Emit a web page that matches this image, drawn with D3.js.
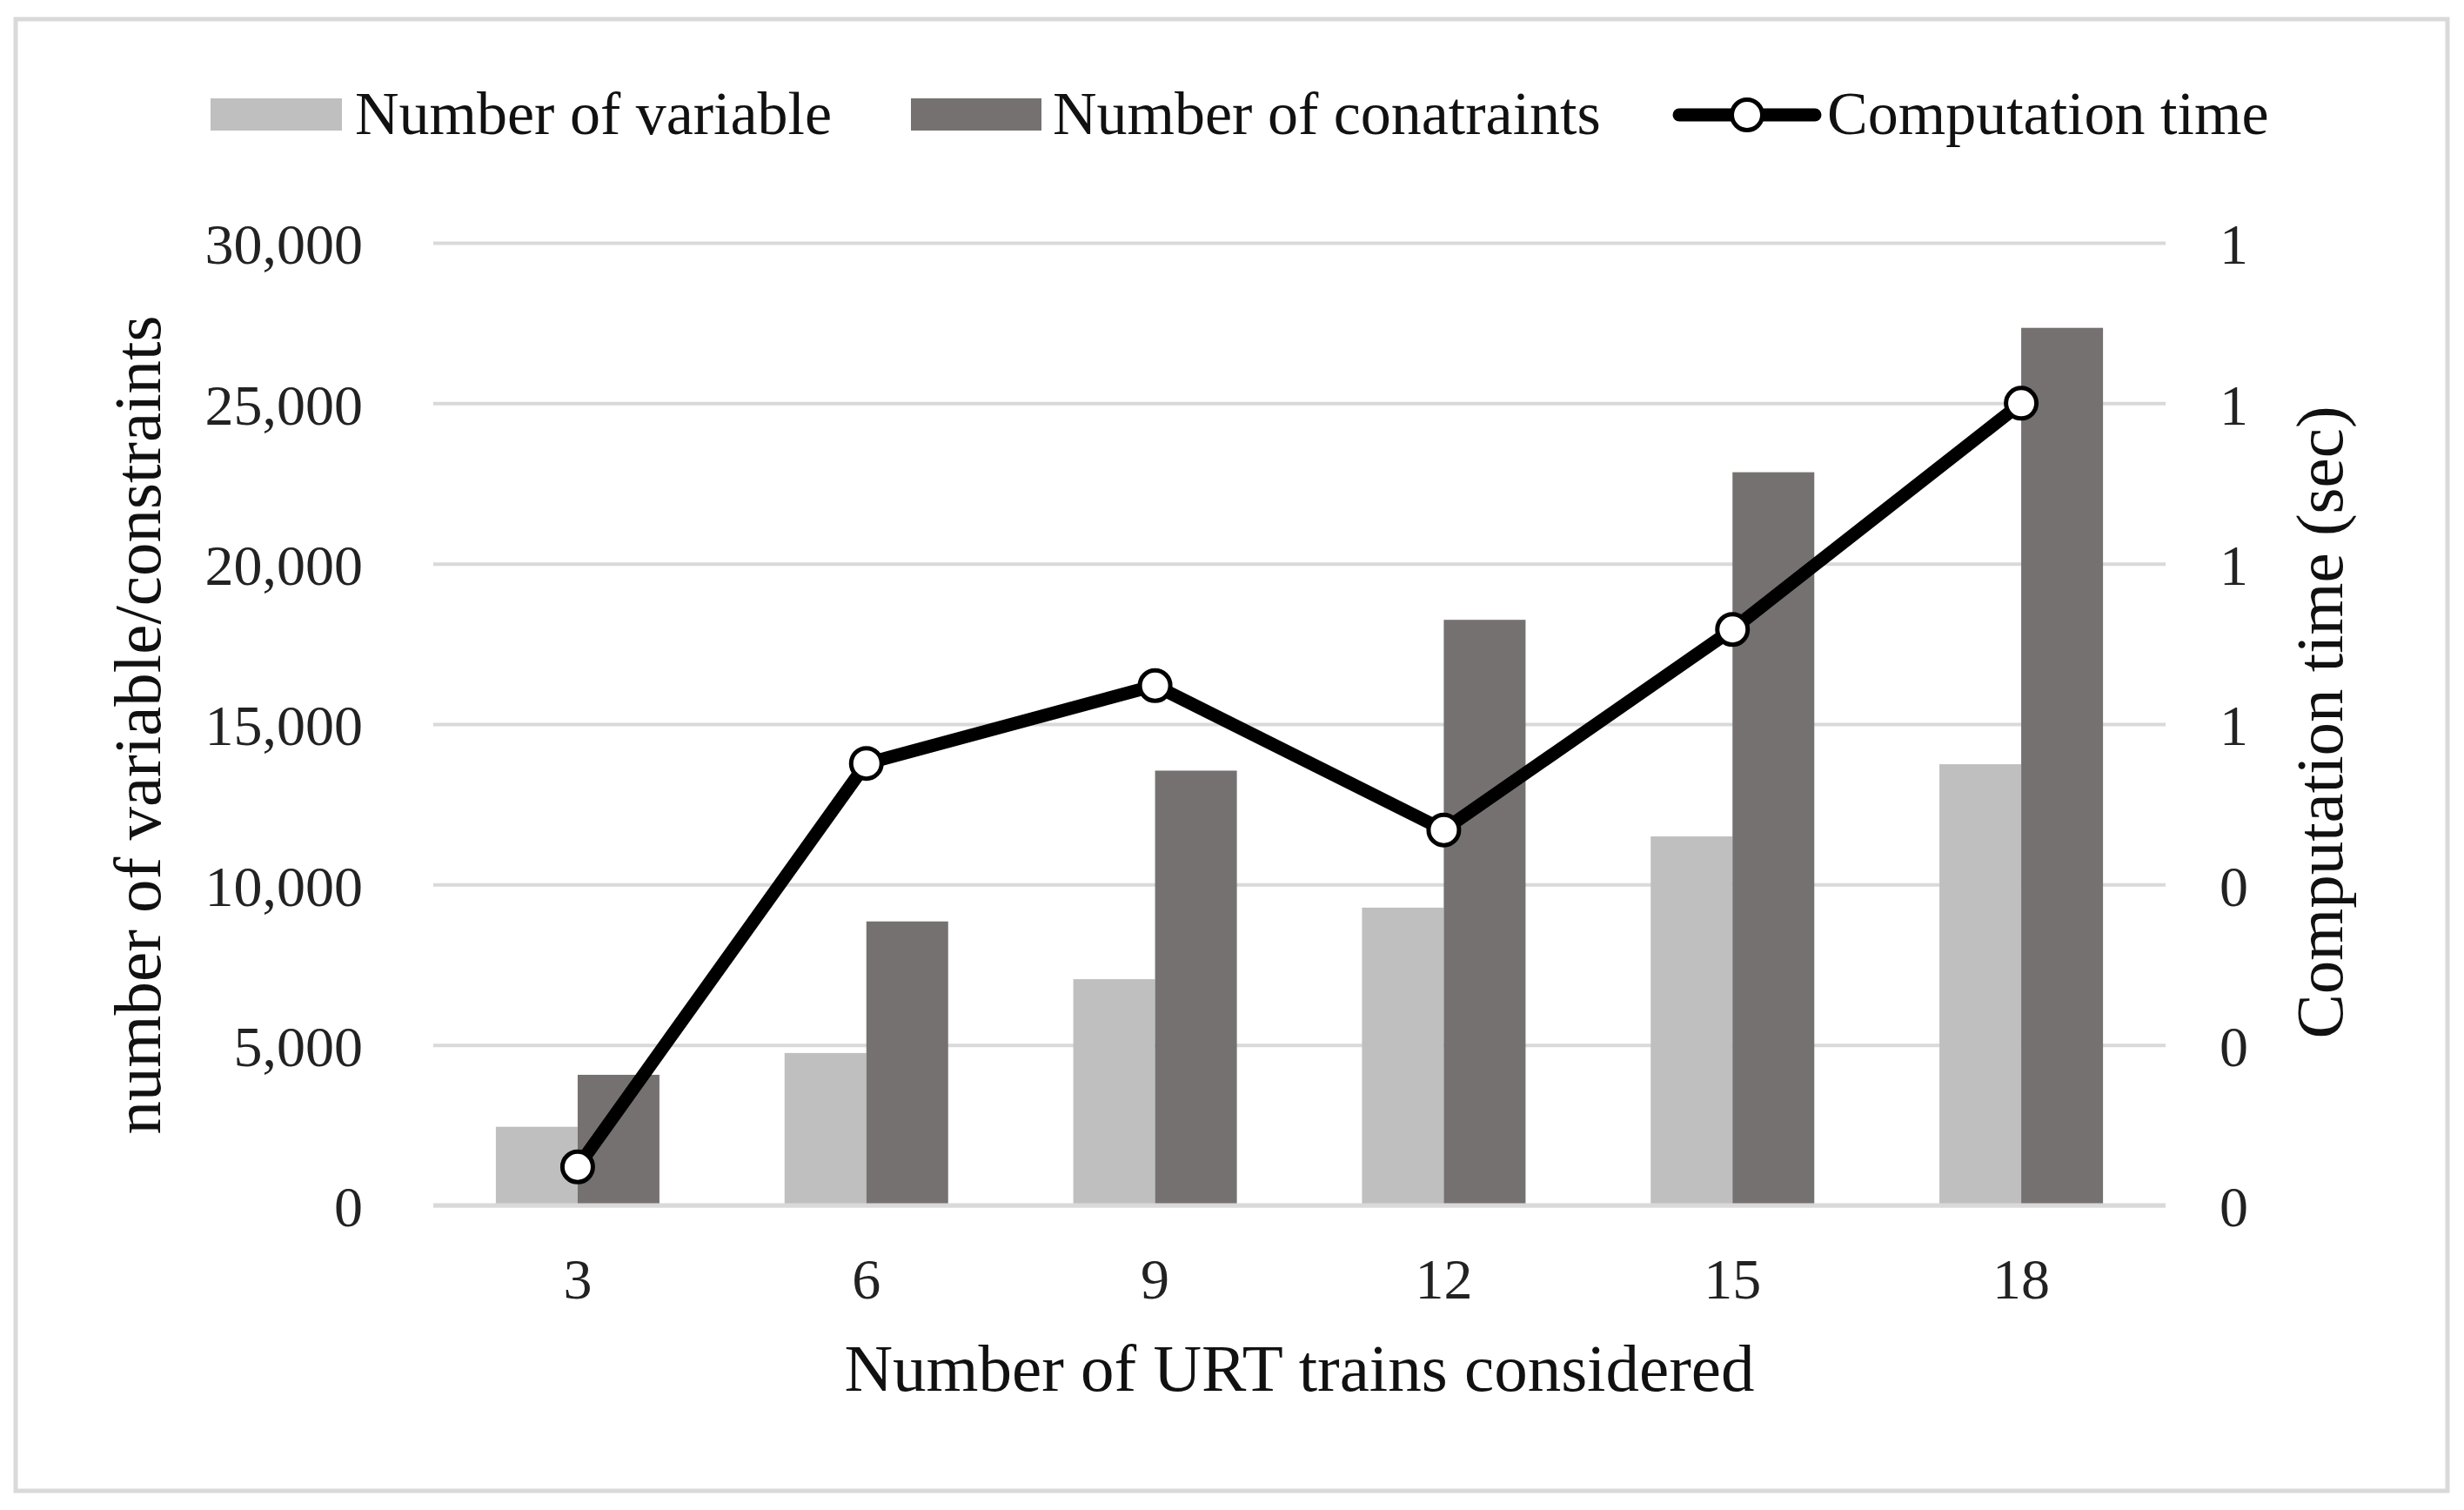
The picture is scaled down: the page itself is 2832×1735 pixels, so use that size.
<!DOCTYPE html>
<html>
<head>
<meta charset="utf-8">
<script src="https://cdn.jsdelivr.net/npm/d3@7"></script>
<style>
  html, body { margin: 0; padding: 0; background: #fff; }
  svg { display: block; }
</style>
</head>
<body>
<script>
// ---- data ----
const categories = ["3", "6", "9", "12", "15", "18"];
const numVariables = [2450, 4750, 7050, 9280, 11500, 13750];
const numConstraints = [4070, 8850, 13550, 18250, 22850, 27350];
const computationTime = [0.048, 0.551, 0.648, 0.468, 0.718, 1.0];
const leftTicks = [0, 5000, 10000, 15000, 20000, 25000, 30000];
const rightTicks = [0, 0.2, 0.4, 0.6, 0.8, 1.0, 1.2];
const seriesNames = ["Number of variable", "Number of conatraints", "Computation time"];
const xTitle = "Number of URT trains considered";
const yLeftTitle = "number of variable/constraints";
const yRightTitle = "Computation time (sec)";

// ---- layout ----
const W = 2832, H = 1735;
const plot = { left: 498, right: 2489, top: 279, bottom: 1385 };
const colLight = "#bfbfbf", colDark = "#767171", gridCol = "#d9d9d9";
const serif = "'Liberation Serif', 'Times New Roman', serif";

const svg = d3.select("body").append("svg").attr("width", W).attr("height", H);

// outer frame
svg.append("rect").attr("x", 18).attr("y", 22).attr("width", 2795).attr("height", 1691)
  .attr("fill", "#fff").attr("stroke", gridCol).attr("stroke-width", 5);

const x = d3.scaleBand().domain(categories).range([plot.left, plot.right])
  .paddingInner(0.4334).paddingOuter(0.2167);
const xSub = d3.scaleBand().domain([0, 1]).range([0, x.bandwidth()]);
const yL = d3.scaleLinear().domain([0, 30000]).range([plot.bottom, plot.top]);
const yR = d3.scaleLinear().domain([0, 1.2]).range([plot.bottom, plot.top]);

// gridlines
const gGrid = svg.append("g")
  .attr("transform", `translate(${plot.left},0)`)
  .call(d3.axisLeft(yL).tickValues(leftTicks).tickSize(-(plot.right - plot.left)).tickFormat(""));
gGrid.select(".domain").remove();
gGrid.selectAll(".tick line").attr("stroke", gridCol).attr("stroke-width", 4);

// bars
const bars = svg.append("g");
bars.selectAll("rect.v").data(categories).join("rect").attr("class", "v")
  .attr("x", (d) => x(d) + xSub(0)).attr("width", xSub.bandwidth())
  .attr("y", (d, i) => yL(numVariables[i])).attr("height", (d, i) => yL(0) - yL(numVariables[i]))
  .attr("fill", colLight);
bars.selectAll("rect.c").data(categories).join("rect").attr("class", "c")
  .attr("x", (d) => x(d) + xSub(1)).attr("width", xSub.bandwidth())
  .attr("y", (d, i) => yL(numConstraints[i])).attr("height", (d, i) => yL(0) - yL(numConstraints[i]))
  .attr("fill", colDark);

// baseline
svg.append("line").attr("x1", plot.left).attr("x2", plot.right)
  .attr("y1", yL(0)).attr("y2", yL(0)).attr("stroke", gridCol).attr("stroke-width", 5);

// line series
const pts = categories.map((c, i) => [x(c) + x.bandwidth() / 2, yR(computationTime[i])]);
svg.append("path").attr("d", d3.line()(pts)).attr("fill", "none")
  .attr("stroke", "#000").attr("stroke-width", 15).attr("stroke-linejoin", "round");
svg.selectAll("circle.m").data(pts).join("circle").attr("class", "m")
  .attr("cx", (d) => d[0]).attr("cy", (d) => d[1]).attr("r", 17.5)
  .attr("fill", "#fff").attr("stroke", "#000").attr("stroke-width", 5);

// left axis labels
const gL = svg.append("g").attr("transform", `translate(417,0)`)
  .call(d3.axisLeft(yL).tickValues(leftTicks).tickSize(0).tickPadding(0).tickFormat(d3.format(",")));
gL.select(".domain").remove();
gL.selectAll("text").attr("font-family", serif).attr("font-size", 66).attr("fill", "#222")
  .attr("dy", "0.36em");

// right axis labels
const gR = svg.append("g").attr("transform", `translate(2551,0)`)
  .call(d3.axisRight(yR).tickValues(rightTicks).tickSize(0).tickPadding(0).tickFormat(d3.format(".0f")));
gR.select(".domain").remove();
gR.selectAll("text").attr("font-family", serif).attr("font-size", 66).attr("fill", "#222")
  .attr("dy", "0.36em");

// x axis labels
const gX = svg.append("g").attr("transform", `translate(0,1492)`)
  .call(d3.axisBottom(x).tickSize(0).tickPadding(0));
gX.select(".domain").remove();
gX.selectAll("text").attr("font-family", serif).attr("font-size", 66).attr("fill", "#222")
  .attr("dy", 0);

// axis titles
svg.append("text").attr("x", (plot.left + plot.right) / 2).attr("y", 1598)
  .attr("text-anchor", "middle").attr("font-family", serif).attr("font-size", 77)
  .attr("fill", "#111").text(xTitle);
svg.append("text").attr("transform", "translate(184,833) rotate(-90)")
  .attr("text-anchor", "middle").attr("font-family", serif).attr("font-size", 77)
  .attr("fill", "#111").text(yLeftTitle);
svg.append("text").attr("transform", "translate(2692,830) rotate(-90)")
  .attr("text-anchor", "middle").attr("font-family", serif).attr("font-size", 77)
  .attr("fill", "#111").text(yRightTitle);

// legend
const lg = svg.append("g");
const legY = 132;
lg.append("rect").attr("x", 242).attr("y", legY - 19).attr("width", 151).attr("height", 37).attr("fill", colLight);
lg.append("text").attr("x", 408).attr("y", 154).attr("font-family", serif).attr("font-size", 70)
  .attr("fill", "#111").text(seriesNames[0]);
lg.append("rect").attr("x", 1047).attr("y", legY - 19).attr("width", 150).attr("height", 37).attr("fill", colDark);
lg.append("text").attr("x", 1210).attr("y", 154).attr("font-family", serif).attr("font-size", 70)
  .attr("fill", "#111").text(seriesNames[1]);
lg.append("line").attr("x1", 1930).attr("x2", 2086).attr("y1", legY).attr("y2", legY)
  .attr("stroke", "#000").attr("stroke-width", 15).attr("stroke-linecap", "round");
lg.append("circle").attr("cx", 2008).attr("cy", legY).attr("r", 17.5)
  .attr("fill", "#fff").attr("stroke", "#000").attr("stroke-width", 5);
lg.append("text").attr("x", 2100).attr("y", 154).attr("font-family", serif).attr("font-size", 70)
  .attr("fill", "#111").text(seriesNames[2]);
</script>
</body>
</html>
